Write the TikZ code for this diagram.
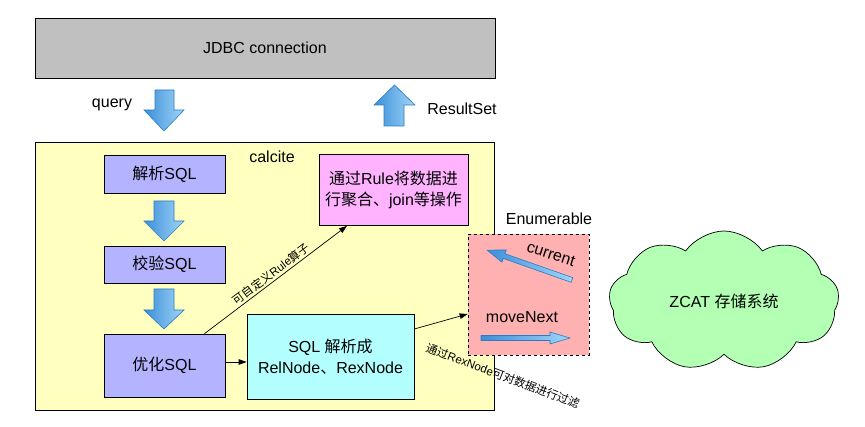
\documentclass[tikz,border=0pt]{standalone}
\usepackage{fontspec}
\setmainfont{Liberation Sans}
\newfontfamily\cjk{Noto Sans CJK SC}
\usetikzlibrary{arrows.meta,shapes.symbols,calc}
\definecolor{jdbcgray}{HTML}{C0C0C0}
\definecolor{calciteyellow}{HTML}{FFFFC0}
\definecolor{stepblue}{HTML}{B3B3FF}
\definecolor{rulepink}{HTML}{FFB3FF}
\definecolor{relcyan}{HTML}{B3FFFF}
\definecolor{enumred}{HTML}{FFB0B0}
\definecolor{cloudgreen}{HTML}{B3FFB3}
\definecolor{arrowdark}{HTML}{3D8FD9}
\definecolor{arrowlight}{HTML}{9FD5F8}
\definecolor{arrowedge}{HTML}{2A7CC4}
\begin{document}
\begin{tikzpicture}[x=1pt,y=-1pt,
  font=\fontsize{16}{19.5}\selectfont,
  boxstyle/.style={draw=black, line width=0.7pt, align=center, inner sep=2pt},
  stepbox/.style={boxstyle, fill=stepblue, minimum width=121pt},
  bluearrow/.style={draw=arrowedge, line width=0.6pt, left color=arrowdark, right color=arrowlight},
  conn/.style={draw=black, line width=0.7pt, -{Triangle[length=8pt,width=5.5pt]}},
  smalllabel/.style={font=\fontsize{11.5}{13}\selectfont, inner sep=1pt}
]
\useasboundingbox (0,0) rectangle (865,427);

% JDBC connection
\node[boxstyle, fill=jdbcgray, minimum width=460pt, minimum height=60pt] (jdbc) at (265,48) {JDBC connection};

% query / ResultSet arrows
\node (query) at (112,105) {query};
\draw[bluearrow] (155,90) -- (174,90) -- (174,110) -- (184,110) -- (164,131) -- (144,110) -- (155,110) -- cycle;
\node (resultset) at (462,109) {ResultSet};
\draw[bluearrow] (384,126) -- (404,126) -- (404,105) -- (415,105) -- (394.5,85) -- (374,105) -- (384,105) -- cycle;

% calcite container
\node[boxstyle, fill=calciteyellow, minimum width=459pt, minimum height=268pt] (calcite) at (264.5,276) {};
\node (calcitelabel) at (272,157) {calcite};

% steps
\node[stepbox, minimum height=38pt] (parse) at (164.5,174) {{\cjk 解析}SQL};
\draw[bluearrow] (154,201) -- (174,201) -- (174,221) -- (184,221) -- (164,241) -- (144,221) -- (154,221) -- cycle;
\node[stepbox, minimum height=37pt] (validate) at (164.5,264.5) {{\cjk 校验}SQL};
\draw[bluearrow] (154,289) -- (174,289) -- (174,310) -- (184,310) -- (164,329) -- (144,310) -- (154,310) -- cycle;
\node[stepbox, minimum height=63pt] (optimize) at (164.5,365.5) {{\cjk 优化}SQL};

% rule box
\node[boxstyle, fill=rulepink, minimum width=149pt, minimum height=71pt] (rule) at (393.5,190) {{\cjk 通过}Rule{\cjk 将数据进}\\[2pt]{\cjk 行聚合、}join{\cjk 等操作}};

% RelNode box
\node[boxstyle, fill=relcyan, minimum width=167pt, minimum height=85pt] (rel) at (330.5,356.5) {SQL {\cjk 解析成}\\[2pt]RelNode{\cjk 、}RexNode};

% Enumerable
\node[draw=black, dashed, line width=0.7pt, fill=enumred, minimum width=121pt, minimum height=121pt] (enum) at (528.5,294.5) {};
\node (enumlabel) at (549,219) {Enumerable};
\begin{scope}[shift={(572,280)}, rotate=160.6]
  \draw[bluearrow] (0,-2.5) -- (72,-2.5) -- (72,-6.5) -- (90,0) -- (72,6.5) -- (72,2.5) -- (0,2.5) -- cycle;
\end{scope}
\node[rotate=-18] (current) at (551,254) {current};
\node (movenext) at (522,317) {moveNext};
\draw[bluearrow] (481,335.5) -- (550,335.5) -- (550,332) -- (570,338) -- (550,344) -- (550,340.5) -- (481,340.5) -- cycle;

% storage cloud
\node[cloud, cloud puffs=9, cloud puff arc=110, aspect=1.65, draw=black, line width=0.7pt, fill=cloudgreen, minimum width=230pt, minimum height=140pt, inner sep=0pt] (zcat) at (724,301) {ZCAT {\cjk 存储系统}};

% connectors
\coordinate (optout) at ([yshift=3.5pt]optimize.east);
\draw[conn] (optout) -- (optout -| rel.west);
\draw[conn] ([xshift=40pt]optimize.north) -- node[smalllabel, sloped, above=1pt] {{\cjk 可自定义}Rule{\cjk 算子}} ([xshift=-46.5pt]rule.south);
\draw[conn] ([yshift=27.5pt]rel.east) -- ([yshift=-19.5pt]enum.west);
\node[smalllabel, rotate=-20.6] (rexlabel) at (503,376) {{\cjk 通过}RexNode{\cjk 可对数据进行过滤}};
\end{tikzpicture}
\end{document}
